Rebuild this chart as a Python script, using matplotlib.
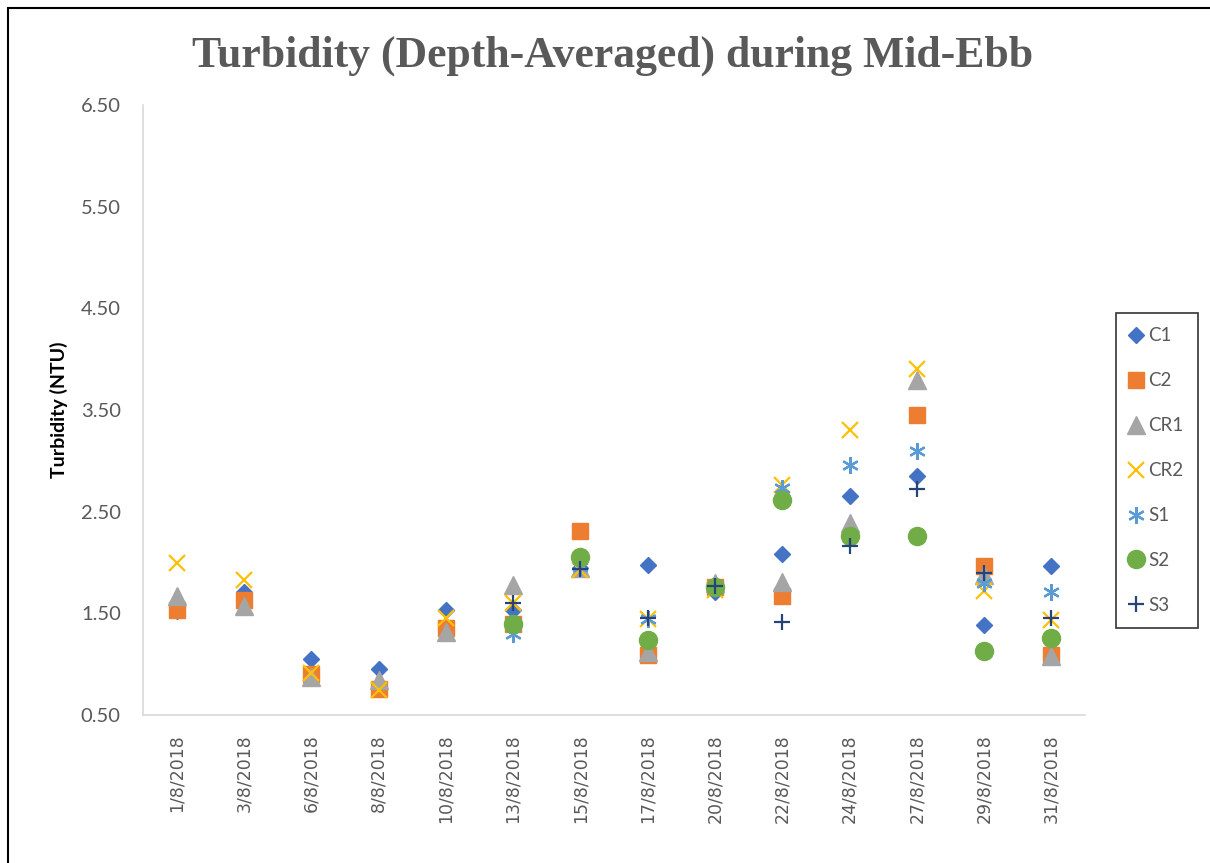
import numpy as np
import matplotlib.pyplot as plt
from matplotlib.patches import Rectangle

nan = np.nan

# sampling dates (category axis)
dates = ['1/8/2018', '3/8/2018', '6/8/2018', '8/8/2018', '10/8/2018', '13/8/2018', '15/8/2018',
         '17/8/2018', '20/8/2018', '22/8/2018', '24/8/2018', '27/8/2018', '29/8/2018', '31/8/2018']

# depth-averaged turbidity (NTU) per station
c1 = [1.52, 1.71, 1.05, 0.95, 1.53, 1.53, 1.95, 1.98, 1.71, 2.08, 2.65, 2.85, 1.39, 1.97]
c2 = [1.53, 1.63, 0.90, 0.76, 1.36, 1.40, 2.31, 1.09, 1.76, 1.67, nan, 3.45, 1.97, 1.09]
cr1 = [1.67, 1.57, 0.87, 0.84, 1.32, 1.78, 1.95, 1.12, 1.80, 1.81, 2.39, 3.80, 1.88, 1.08]
cr2 = [2.00, 1.83, 0.91, 0.75, 1.45, 1.60, 1.93, 1.44, 1.73, 2.76, 3.30, 3.90, 1.72, 1.43]
s1 = [nan, nan, nan, nan, nan, 1.30, 1.96, 1.44, 1.76, 2.73, 2.96, 3.10, 1.80, 1.71]
s2 = [nan, nan, nan, nan, nan, 1.40, 2.05, 1.24, 1.76, 2.61, 2.26, 2.26, 1.13, 1.26]
s3 = [nan, nan, nan, nan, nan, 1.60, 1.94, 1.45, 1.77, 1.41, 2.16, 2.72, 1.90, 1.45]

yticks = [0.5, 1.5, 2.5, 3.5, 4.5, 5.5, 6.5]

fig = plt.figure(figsize=(12.1, 8.63), dpi=100)
ax = fig.add_axes([0.1182, 0.1715, 0.7785, 0.7068])

x = np.arange(len(dates))

# series styles (Office palette)
series = [
    ('C1', c1, dict(marker='D', ms=8.6, color='#4472C4', mec='#4472C4')),
    ('C2', c2, dict(marker='s', ms=12, color='#ED7D31', mec='#ED7D31')),
    ('CR1', cr1, dict(marker='^', ms=12.5, color='#A5A5A5', mec='#A5A5A5')),
    ('CR2', cr2, dict(marker='x', ms=11.5, mew=1.6, color='#FFC000')),
    ('S1', s1, dict(marker=(6, 2, 0), ms=12, mew=1.6, color='#5B9BD5')),
    ('S2', s2, dict(marker='o', ms=13, color='#70AD47', mec='#70AD47')),
    ('S3', s3, dict(marker='+', ms=12, mew=1.6, color='#264478')),
]
for name, vals, kw in series:
    ax.plot(x, vals, linestyle='none', label=name, **kw)

ax.set_xlim(-0.5, len(dates) - 0.5)
ax.set_ylim(0.5, 6.5)
ax.set_yticks(yticks)
ax.set_yticklabels(['%.2f' % v for v in yticks], fontsize=14.5, color='#595959', family='Lato')
ax.set_xticks(x)
ax.set_xticklabels(dates, rotation=90, fontsize=12.5, color='#595959', family='DejaVu Sans')
ax.tick_params(length=0)
ax.tick_params(axis='x', pad=14)
ax.tick_params(axis='y', pad=16)

for side in ['top', 'right']:
    ax.spines[side].set_visible(False)
for side in ['left', 'bottom']:
    ax.spines[side].set_color('#d9d9d9')
    ax.spines[side].set_linewidth(1.2)

ax.set_ylabel('Turbidity (NTU)', fontsize=14, fontweight='bold', family='Lato', labelpad=9)

fig.text(0.506, 0.935, 'Turbidity (Depth-Averaged) during Mid-Ebb', ha='center', va='center',
         fontsize=31.5, fontweight='bold', color='#595959', family='Liberation Serif')

leg = ax.legend(loc='upper left', bbox_to_anchor=(0.922, 0.637), bbox_transform=fig.transFigure,
                borderaxespad=0, frameon=True, fancybox=False, labelspacing=1.49,
                handlelength=0.7, handletextpad=0.3, borderpad=0.75, prop={'family': 'Lato', 'size': 13.5})
leg.get_frame().set_edgecolor('black')
leg.get_frame().set_linewidth(1.2)
for t in leg.get_texts():
    t.set_color('#595959')

# outer chart border (only top and left are inside the image)
fig.patches.append(Rectangle((8 / 1210, -0.1), 1.2, 1.1 - 8 / 863, transform=fig.transFigure,
                             fill=False, edgecolor='black', linewidth=1.5))

fig.savefig('out.png', dpi=100)
